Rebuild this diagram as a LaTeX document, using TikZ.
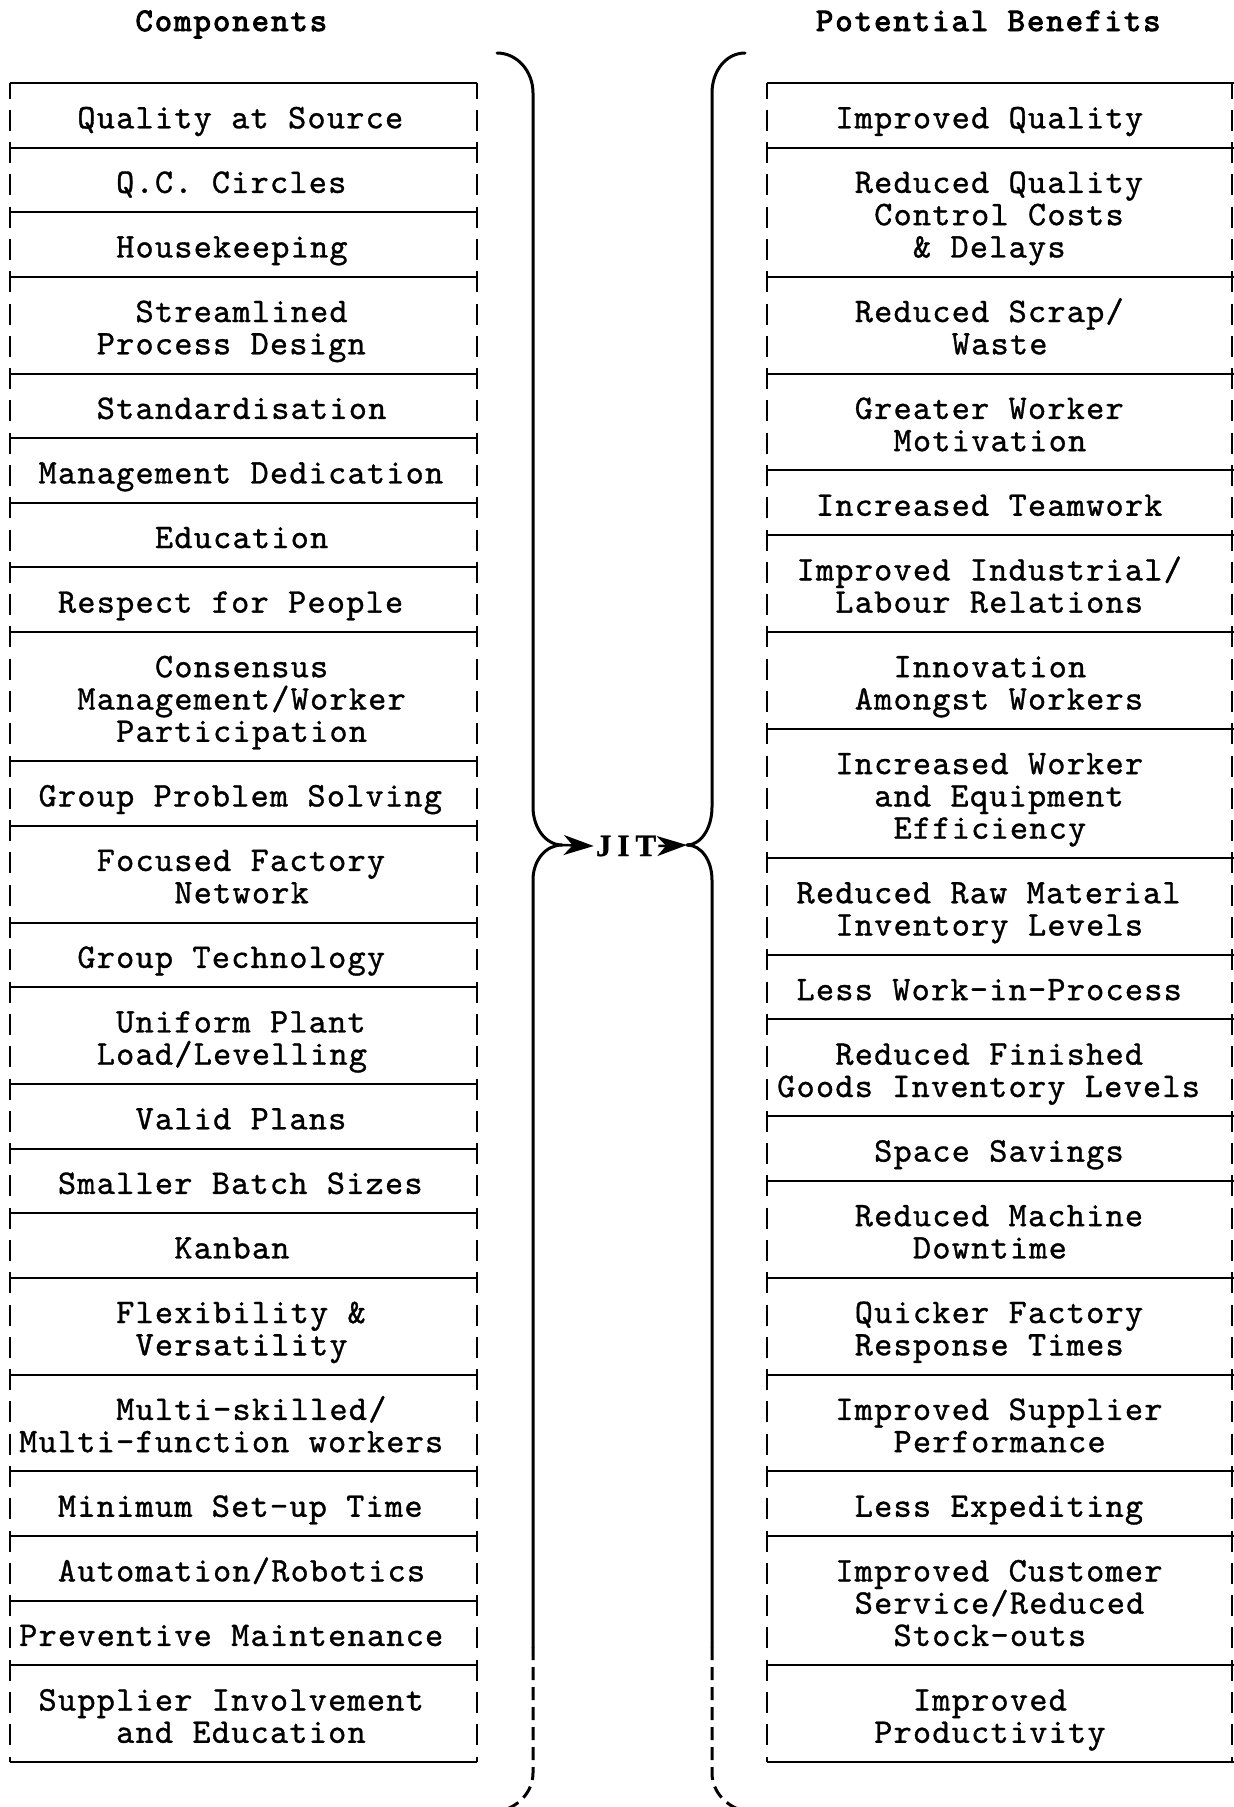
\documentclass[tikz,border=0pt]{standalone}
\usepackage{fontspec}
\usetikzlibrary{arrows.meta}
\newfontfamily\twfont{lmmono10-regular.otf}[FakeBold=1.0,LetterSpace=3.7]
\newfontfamily\headfont{lmmono10-regular.otf}[FakeBold=3,LetterSpace=6.2]
\newfontfamily\jitfont{Liberation Serif}[FakeBold=1]

% one typed line: name, column origin, column, line number, text
\newcommand\putline[5]{\node[txt] (#1) at ({#2+#3*19.4},{83+#4*32.29+13}) {#5};}

\begin{document}
\begin{tikzpicture}[x=1pt,y=-1pt,
  txt/.style={anchor=base west,inner sep=0pt,font=\twfont\fontsize{34.5}{38}\selectfont},
  head/.style={anchor=base west,inner sep=0pt,font=\headfont\fontsize{33}{38}\selectfont},
  rule/.style={line width=2pt},
  side/.style={line width=2pt,dash pattern=on 21pt off 11.29pt,dash phase=5.5pt},
  brace/.style={line width=3pt,line cap=round},
  bracedash/.style={line width=3pt,dash pattern=on 13pt off 7pt},
  jitarrow/.style={line width=2.5pt,-{Stealth[length=30pt,width=20pt,inset=9pt]}}]
\path[use as bounding box] (0,0) rectangle (1234,1807);

% column headings
\node[head] (hcomp) at (135.3,31) {Components};
\node[head] (hben) at (815.8,31) {Potential Benefits};

% left column frame
\foreach \k in {0,2,4,6,9,11,13,15,17,21,23,26,28,31,33,35,37,40,43,45,47,49,52}
  \draw[rule] (10,{83+\k*32.29}) -- (477,{83+\k*32.29});
\draw[side] (10,83) -- (10,1762);
\draw[side] (477,83) -- (477,1762);

% right column frame
\foreach \k in {0,2,6,9,12,14,17,20,24,27,29,32,34,37,40,43,45,49,52}
  \draw[rule] (767,{83+\k*32.29}) -- (1234,{83+\k*32.29});
\draw[side] (767,83) -- (767,1762);
\draw[side] (1232,83) -- (1232,1762);

% components
\def\xl{19}
\putline{c1}{\xl}{3}{1}{Quality at Source}
\putline{c2}{\xl}{5}{3}{Q.C. Circles}
\putline{c3}{\xl}{5}{5}{Housekeeping}
\putline{c4a}{\xl}{6}{7}{Streamlined}
\putline{c4b}{\xl}{4}{8}{Process Design}
\putline{c5}{\xl}{4}{10}{Standardisation}
\putline{c6}{\xl}{1}{12}{Management Dedication}
\putline{c7}{\xl}{7}{14}{Education}
\putline{c8}{\xl}{2}{16}{Respect for People}
\putline{c9a}{\xl}{7}{18}{Consensus}
\putline{c9b}{\xl}{3}{19}{Management/Worker}
\putline{c9c}{\xl}{5}{20}{Participation}
\putline{c10}{\xl}{1}{22}{Group Problem Solving}
\putline{c11a}{\xl}{4}{24}{Focused Factory}
\putline{c11b}{\xl}{8}{25}{Network}
\putline{c12}{\xl}{3}{27}{Group Technology}
\putline{c13a}{\xl}{5}{29}{Uniform Plant}
\putline{c13b}{\xl}{4}{30}{Load/Levelling}
\putline{c14}{\xl}{6}{32}{Valid Plans}
\putline{c15}{\xl}{2}{34}{Smaller Batch Sizes}
\putline{c16}{\xl}{8}{36}{Kanban}
\putline{c17a}{\xl}{5}{38}{Flexibility \&}
\putline{c17b}{\xl}{6}{39}{Versatility}
\putline{c18a}{\xl}{5}{41}{Multi-skilled/}
\putline{c18b}{\xl}{0}{42}{Multi-function workers}
\putline{c19}{\xl}{2}{44}{Minimum Set-up Time}
\putline{c20}{\xl}{2}{46}{Automation/Robotics}
\putline{c21}{\xl}{0}{48}{Preventive Maintenance}
\putline{c22a}{\xl}{1}{50}{Supplier Involvement}
\putline{c22b}{\xl}{5}{51}{and Education}

% benefits
\def\xr{777}
\putline{b1}{\xr}{3}{1}{Improved Quality}
\putline{b2a}{\xr}{4}{3}{Reduced Quality}
\putline{b2b}{\xr}{5}{4}{Control Costs}
\putline{b2c}{\xr}{7}{5}{\& Delays}
\putline{b3a}{\xr}{4}{7}{Reduced Scrap/}
\putline{b3b}{\xr}{9}{8}{Waste}
\putline{b4a}{\xr}{4}{10}{Greater Worker}
\putline{b4b}{\xr}{6}{11}{Motivation}
\putline{b5}{\xr}{2}{13}{Increased Teamwork}
\putline{b6a}{\xr}{1}{15}{Improved Industrial/}
\putline{b6b}{\xr}{3}{16}{Labour Relations}
\putline{b7a}{\xr}{6}{18}{Innovation}
\putline{b7b}{\xr}{4}{19}{Amongst Workers}
\putline{b8a}{\xr}{3}{21}{Increased Worker}
\putline{b8b}{\xr}{5}{22}{and Equipment}
\putline{b8c}{\xr}{6}{23}{Efficiency}
\putline{b9a}{\xr}{1}{25}{Reduced Raw Material}
\putline{b9b}{\xr}{3}{26}{Inventory Levels}
\putline{b10}{\xr}{1}{28}{Less Work-in-Process}
\putline{b11a}{\xr}{3}{30}{Reduced Finished}
\putline{b11b}{\xr}{0}{31}{Goods Inventory Levels}
\putline{b12}{\xr}{5}{33}{Space Savings}
\putline{b13a}{\xr}{4}{35}{Reduced Machine}
\putline{b13b}{\xr}{7}{36}{Downtime}
\putline{b14a}{\xr}{4}{38}{Quicker Factory}
\putline{b14b}{\xr}{4}{39}{Response Times}
\putline{b15a}{\xr}{3}{41}{Improved Supplier}
\putline{b15b}{\xr}{6}{42}{Performance}
\putline{b16}{\xr}{4}{44}{Less Expediting}
\putline{b17a}{\xr}{3}{46}{Improved Customer}
\putline{b17b}{\xr}{4}{47}{Service/Reduced}
\putline{b17c}{\xr}{6}{48}{Stock-outs}
\putline{b18a}{\xr}{7}{50}{Improved}
\putline{b18b}{\xr}{5}{51}{Productivity}

% braces meeting at JIT
\coordinate (ltip) at (562,845);
\coordinate (rtip) at (687,845);
\node[inner xsep=2pt,inner ysep=0pt,font=\jitfont\bfseries\fontsize{31}{32}\selectfont] (jit) at (626,846) {J\kern6pt I\kern6pt T};

\draw[brace] (497,53) .. controls (517,53) and (533,71) .. (533,93) -- (533,807)
  .. controls (533,828) and (546,845) .. (ltip);
\draw[brace] (ltip) .. controls (546,845) and (533,860) .. (533,880) -- (533,1647);
\draw[bracedash] (533,1647) -- (533,1773) .. controls (533,1792) and (518,1808) .. (497,1812);

\draw[brace] (745,53) .. controls (726,53) and (712,71) .. (712,93) -- (712,807)
  .. controls (712,828) and (701,845) .. (rtip);
\draw[brace] (rtip) .. controls (701,845) and (712,860) .. (712,880) -- (712,1647);
\draw[bracedash] (712,1647) -- (712,1773) .. controls (712,1792) and (727,1808) .. (748,1812);

\draw[jitarrow] (ltip) -- (jit.west);
\draw[jitarrow] (jit.east) -- (rtip);
\end{tikzpicture}
\end{document}
